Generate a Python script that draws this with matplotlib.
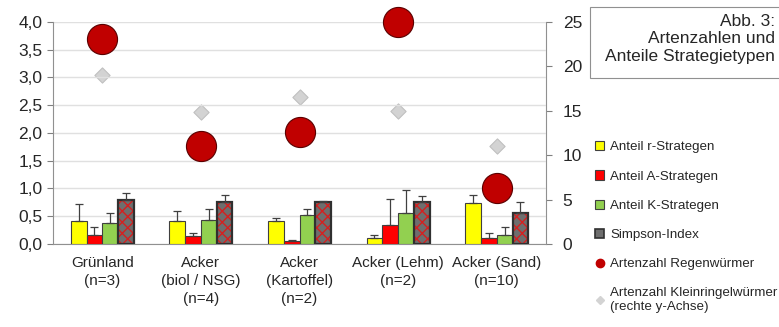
import numpy as np
import matplotlib
matplotlib.use("Agg")
from matplotlib import pyplot as plt
from matplotlib.lines import Line2D
from matplotlib.patches import Patch, Rectangle
from matplotlib.ticker import FuncFormatter

categories = ["Grünland\n(n=3)", "Acker\n(biol / NSG)\n(n=4)", "Acker\n(Kartoffel)\n(n=2)",
              "Acker (Lehm)\n(n=2)", "Acker (Sand)\n(n=10)"]
r_strat = [0.42, 0.41, 0.41, 0.10, 0.73]
r_err = [0.30, 0.19, 0.06, 0.06, 0.15]
a_strat = [0.17, 0.15, 0.05, 0.34, 0.10]
a_err = [0.13, 0.04, 0.02, 0.47, 0.09]
k_strat = [0.38, 0.44, 0.53, 0.55, 0.17]
k_err = [0.18, 0.19, 0.10, 0.43, 0.14]
simpson = [0.80, 0.75, 0.76, 0.76, 0.56]
simpson_err = [0.11, 0.14, 0.01, 0.10, 0.20]
regenwuermer = [3.69, 1.76, 2.01, 4.00, 1.01]
kleinringel = [19.0, 14.8, 16.5, 15.0, 11.0]

plt.rcParams['font.family'] = ['Liberation Sans', 'DejaVu Sans']
txt = '#262626'

fig = plt.figure(figsize=(7.79, 3.27), dpi=100)
ax = fig.add_axes([0.068, 0.254, 0.633, 0.679])
ax2 = ax.twinx()

x = np.arange(len(categories))
w = 0.16
offs = [-1.5 * w, -0.5 * w, 0.5 * w, 1.5 * w]
ekw = dict(ecolor='#404040', elinewidth=0.9, capsize=3, capthick=0.9)

def up_err(e):
    return [np.zeros(len(e)), e]

ax.bar(x + offs[0], r_strat, w, color='#FFFF00', edgecolor='#404040', linewidth=0.8,
       yerr=up_err(r_err), error_kw=ekw, zorder=3)
ax.bar(x + offs[1], a_strat, w, color='#FF0000', edgecolor='#404040', linewidth=0.8,
       yerr=up_err(a_err), error_kw=ekw, zorder=3)
ax.bar(x + offs[2], k_strat, w, color='#92D050', edgecolor='#404040', linewidth=0.8,
       yerr=up_err(k_err), error_kw=ekw, zorder=3)
# Simpson bar: grey with red speckles, dark outline drawn on top
ax.bar(x + offs[3], simpson, w, color='#6E6E6E', edgecolor='#D42020', hatch='xxx',
       linewidth=0, zorder=3)
ax.bar(x + offs[3], simpson, w, fill=False, edgecolor='#303030', linewidth=1.6,
       yerr=up_err(simpson_err), error_kw=ekw, zorder=4)

ax.scatter(x, regenwuermer, s=470, color='#C00000', edgecolor='#5a0000', linewidth=0.8,
           zorder=6, clip_on=False)
ax2.scatter(x, kleinringel, s=60, marker='D', color='#D3D3D3', edgecolor='#C0C0C0',
            linewidth=0.8, zorder=5, clip_on=False)

ax.set_xlim(-0.5, len(categories) - 0.5)
ax.set_ylim(0, 4.0)
ax.set_yticks(np.arange(0, 4.01, 0.5))
ax.yaxis.set_major_formatter(FuncFormatter(lambda v, p: f"{v:.1f}".replace('.', ',')))
ax2.set_ylim(0, 25)
ax2.set_yticks([0, 5, 10, 15, 20, 25])

ax.set_xticks(x)
ax.set_xticklabels(categories, fontsize=11, color=txt, linespacing=1.35)
ax.tick_params(axis='x', length=0, pad=9)
ax.tick_params(axis='y', labelsize=12.5, colors='#808080', labelcolor=txt, length=4, width=0.8)
ax2.tick_params(axis='y', labelsize=12.5, colors='#808080', labelcolor=txt, length=4, width=0.8, pad=8)

ax.grid(axis='y', color='#E0E0E0', linewidth=1, zorder=0)
ax.set_axisbelow(True)
for a in (ax, ax2):
    a.spines['top'].set_visible(False)
    for s in ('left', 'right', 'bottom'):
        a.spines[s].set_color('#909090')
ax.spines['right'].set_visible(False)
ax2.spines['left'].set_visible(False)
ax2.spines['bottom'].set_visible(False)
ax.set_zorder(ax2.get_zorder() + 1)
ax.patch.set_visible(False)

handles = [
    Patch(facecolor='#FFFF00', edgecolor='#404040', linewidth=0.8),
    Patch(facecolor='#FF0000', edgecolor='#404040', linewidth=0.8),
    Patch(facecolor='#92D050', edgecolor='#404040', linewidth=0.8),
    Patch(facecolor='#6E6E6E', edgecolor='#303030', linewidth=1.2),
    Line2D([], [], marker='o', color='#C00000', markersize=6, linestyle='none'),
    Line2D([], [], marker='D', color='#D3D3D3', markersize=4, linestyle='none'),
]
labels = ['Anteil r-Strategen', 'Anteil A-Strategen', 'Anteil K-Strategen', 'Simpson-Index',
          'Artenzahl Regenwürmer', 'Artenzahl Kleinringelwürmer\n(rechte y-Achse)']
fig.legend(handles, labels, loc='upper left', bbox_to_anchor=(0.757, 0.585), frameon=False,
           fontsize=9.6, handlelength=0.7, handleheight=0.7, handletextpad=0.45,
           labelspacing=1.27, labelcolor=txt, borderaxespad=0)

# title box, cut off at the right edge like the original
fig.patches.append(Rectangle((590 / 779, 1 - 78 / 327), 0.3, 71 / 327, transform=fig.transFigure,
                             facecolor='white', edgecolor='#909090', linewidth=0.8, zorder=5))
fig.text(775 / 779, 1 - 14 / 327, "Abb. 3:\nArtenzahlen und\nAnteile Strategietypen", ha='right',
         va='top', fontsize=12.5, color=txt, linespacing=1.2, zorder=6)

fig.savefig("out.png", dpi=100)
